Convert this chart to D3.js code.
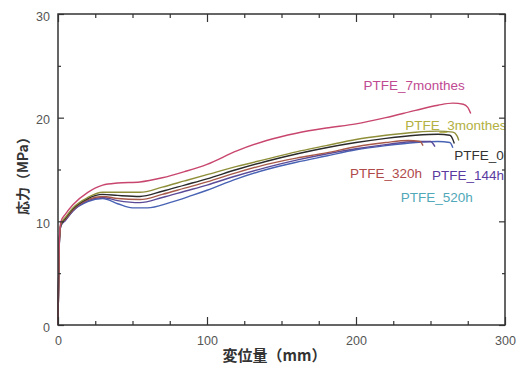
<!DOCTYPE html>
<html>
<head>
<meta charset="utf-8">
<script src="https://cdn.jsdelivr.net/npm/d3@7"></script>
<style>
  body { margin: 0; background: #fff; }
  svg text { font-family: "Liberation Sans", Arial, sans-serif; }
</style>
</head>
<body>
<div id="chart"></div>
<script>
// tick values
const xTicksMajor = [0, 100, 200, 300];
const xTicksMinor = [25, 50, 75, 125, 150, 175, 225, 250, 275];
const yTicksMajor = [0, 10, 20, 30];
const yTicksMinor = [5, 15, 25];

// series: [displacement mm, stress MPa]
const s7monthes = [[0,0],[0.5,5],[1,8.5],[2,10],[5,10.7],[10,11.6],[20,12.8],[30,13.5],[40,13.7],[55,13.8],[70,14.2],[85,14.8],[100,15.5],[120,16.8],[140,17.8],[160,18.5],[180,19],[200,19.4],[220,20],[240,20.7],[255,21.2],[265,21.4],[272,21.3],[275,21],[277,20.4]];
const s3monthes = [[0,0],[0.5,5],[1,8.5],[2,9.8],[5,10.4],[10,11.3],[20,12.3],[30,12.8],[40,12.8],[55,12.8],[70,13.3],[85,13.9],[100,14.5],[120,15.3],[140,16],[160,16.7],[180,17.3],[200,17.9],[220,18.3],[240,18.6],[255,18.7],[265,18.6],[268,18.2],[269,17.8]];
const s0h = [[0,0],[0.5,5],[1,8.4],[2,9.7],[5,10.3],[10,11.2],[20,12.2],[30,12.6],[40,12.5],[55,12.4],[70,12.9],[85,13.5],[100,14.1],[120,15],[140,15.8],[160,16.5],[180,17.1],[200,17.6],[220,18],[240,18.3],[255,18.4],[263,18.3],[265,17.9],[266,17.5]];
const s320h = [[0,0],[0.5,5],[1,8.4],[2,9.7],[5,10.2],[10,11.1],[20,12.1],[30,12.4],[40,12.2],[55,12.1],[70,12.6],[85,13.2],[100,13.8],[120,14.7],[140,15.5],[160,16.1],[180,16.6],[200,17.2],[220,17.6],[235,17.8],[243,17.7],[245,17.3]];
const s144h = [[0,0],[0.5,5],[1,8.3],[2,9.6],[5,10.1],[10,11],[20,12],[30,12.3],[40,12],[55,11.8],[70,12.3],[85,12.9],[100,13.5],[120,14.4],[140,15.2],[160,15.9],[180,16.5],[200,17],[220,17.4],[240,17.7],[250,17.7],[253,17.2]];
const s520h = [[0,0],[0.5,5],[1,8.3],[2,9.6],[5,10.1],[10,11],[20,11.9],[30,12.2],[40,11.7],[50,11.3],[60,11.3],[75,11.8],[90,12.5],[100,13],[120,14.1],[140,15],[160,15.7],[180,16.3],[200,16.9],[220,17.3],[240,17.6],[255,17.7],[263,17.6],[265,17.1]];

const seriesNames = ['PTFE_7monthes', 'PTFE_3monthes', 'PTFE_0h', 'PTFE_320h', 'PTFE_144h', 'PTFE_520h'];
const seriesData = [s7monthes, s3monthes, s0h, s320h, s144h, s520h];
const lineColors = ['#c8466e', '#8f8f3a', '#2a2a2a', '#a85a4a', '#5a4a98', '#4862b4'];
const labelColors = ['#c04a92', '#b2b040', '#333333', '#b04a4a', '#5a3aa0', '#50a8b8'];
// label anchor points in data units (left x, baseline y)
const labelPos = [[205, 22.7], [233, 18.8], [266, 15.9], [196, 14.2], [251, 14.0], [230, 11.9]];

const W = 524, H = 371;
const margin = { top: 14, right: 19, bottom: 46, left: 58 };
const width = W - margin.left - margin.right;
const height = H - margin.top - margin.bottom;

const root = d3.select('#chart')
    .append('svg')
    .attr('width', W)
    .attr('height', H);

root.append('defs').append('clipPath')
    .attr('id', 'plotclip')
    .append('rect')
    .attr('width', width).attr('height', height);

const svg = root.append('g')
    .attr('transform', `translate(${margin.left},${margin.top})`);

const x = d3.scaleLinear().domain([0, 300]).range([0, width]);
const y = d3.scaleLinear().domain([0, 30]).range([height, 0]);

// curves
const line = d3.line()
    .x(d => x(d[0]))
    .y(d => y(d[1]))
    .curve(d3.curveMonotoneX);

// draw lowest first
for (let i = seriesData.length - 1; i >= 0; i--) {
    svg.append('path')
        .datum(seriesData[i])
        .attr('fill', 'none')
        .attr('stroke', lineColors[i])
        .attr('stroke-width', 1.4)
        .attr('d', line);
}

// series labels, cut off at the frame like the original
svg.append('g')
    .attr('clip-path', 'url(#plotclip)')
    .selectAll('text')
    .data(seriesNames)
    .join('text')
    .attr('x', (d, i) => x(labelPos[i][0]))
    .attr('y', (d, i) => y(labelPos[i][1]))
    .attr('fill', (d, i) => labelColors[i])
    .attr('font-size', 13.5)
    .text(d => d);

// frame
svg.append('rect')
    .attr('x', 0).attr('y', 0)
    .attr('width', width).attr('height', height)
    .attr('fill', 'none')
    .attr('stroke', '#333')
    .attr('stroke-width', 1.5);

// ticks pointing inward on all four sides
function addAxis(gen, transform, ticks, size, showLabels) {
    const g = svg.append('g')
        .attr('transform', transform)
        .call(gen.tickValues(ticks).tickSize(size).tickSizeOuter(0)
            .tickFormat(showLabels ? d3.format('d') : ''));
    g.select('.domain').remove();
    g.selectAll('line').attr('stroke', '#333').attr('stroke-width', 1.2);
    g.selectAll('text').attr('fill', '#555').attr('font-size', 12.5);
    return g;
}

const xb = addAxis(d3.axisBottom(x), `translate(0,${height})`, xTicksMajor, -8, true);
xb.selectAll('text').attr('y', 11).attr('dy', '0.71em');
addAxis(d3.axisBottom(x), `translate(0,${height})`, xTicksMinor, -4, false);
addAxis(d3.axisTop(x), 'translate(0,0)', xTicksMajor, -8, false);
addAxis(d3.axisTop(x), 'translate(0,0)', xTicksMinor, -4, false);

const yl = addAxis(d3.axisLeft(y), 'translate(0,0)', yTicksMajor, -6, true);
yl.selectAll('text').attr('x', -8).attr('dy', '0.5em');
addAxis(d3.axisLeft(y), 'translate(0,0)', yTicksMinor, -3, false);
addAxis(d3.axisRight(y), `translate(${width},0)`, yTicksMajor, -6, false);
addAxis(d3.axisRight(y), `translate(${width},0)`, yTicksMinor, -3, false);

// axis titles
svg.append('text')
    .attr('x', width / 2 - 7)
    .attr('y', height + 36)
    .attr('text-anchor', 'middle')
    .attr('font-size', 15)
    .attr('font-weight', 'bold')
    .attr('fill', '#333')
    .style('font-family', '"Noto Sans CJK JP", sans-serif')
    .text('変位量（mm）');

svg.append('text')
    .attr('transform', `translate(${-margin.left + 28},${y(14.7)}) rotate(-90)`)
    .attr('text-anchor', 'middle')
    .attr('font-size', 14)
    .attr('font-weight', 'bold')
    .attr('fill', '#333')
    .style('font-family', '"Noto Sans CJK JP", sans-serif')
    .text('応力（MPa）');
</script>
</body>
</html>
